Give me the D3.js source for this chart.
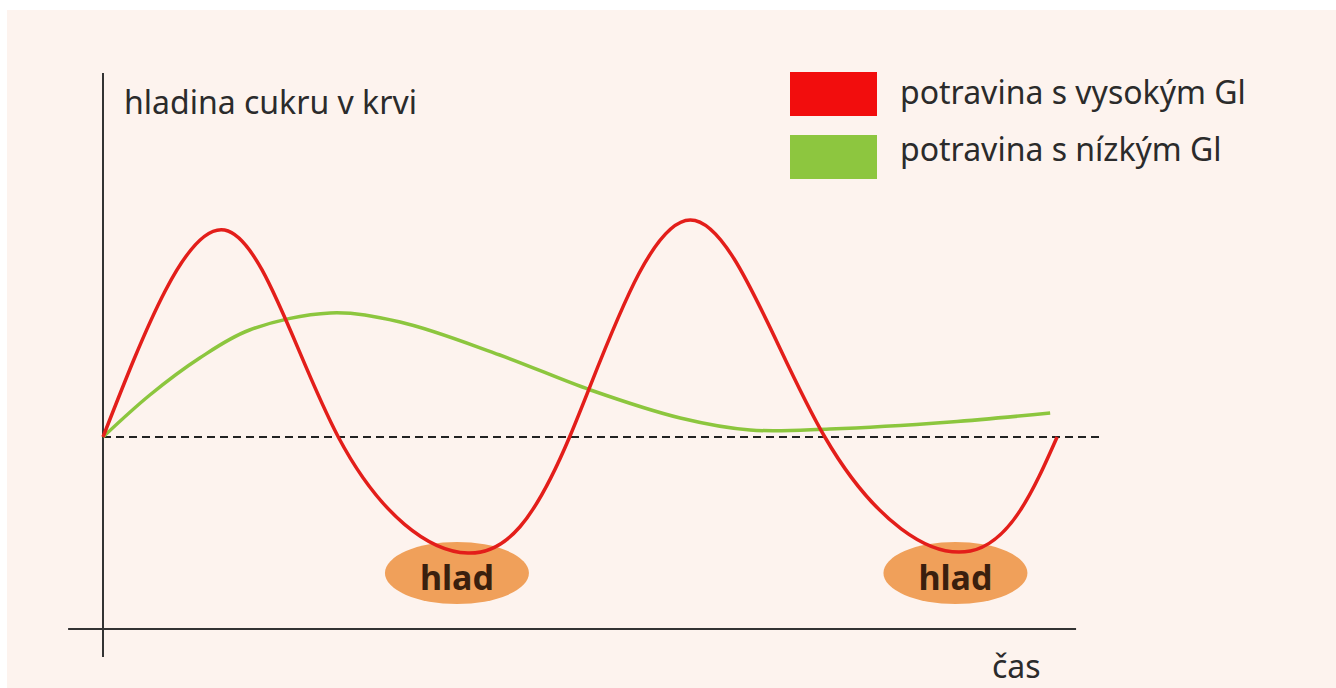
<!DOCTYPE html>
<html>
<head>
<meta charset="utf-8">
<script src="https://cdn.jsdelivr.net/npm/d3@7"></script>
<style>
    body { margin: 0; background: #fff; }
    svg text { font-family: "Noto Sans", "Open Sans", sans-serif; fill: #2b2b2b; }
</style>
</head>
<body>
<svg id="chart" width="1336" height="688"></svg>
<script>
// time (arbitrary units) and blood sugar level relative to baseline
const highGiTime  = [0, 12.2, 23.6, 36.6, 46.8, 58.9, 72.4, 87.0, 95.7];
const highGiLevel = [0, 103.5, 0, -58, 0, 108.5, 0, -57, 0];

const lowGiTime  = [0, 4.7, 9.7, 14.7, 22.8, 29.8, 39.8, 48.9, 57.9, 64.9, 72.9, 85.0, 95.0];
const lowGiLevel = [0, 21, 39.5, 53.5, 62, 57.5, 41, 23.5, 9.5, 3.5, 4, 7.5, 12];

const hungerTime = [35.5, 85.5];
const hungerLabel = "hlad";

const legendLabels = ["potravina s vysokým Gl", "potravina s nízkým Gl"];
const legendColors = ["#f20d0d", "#8dc63f"];
const yLabel = "hladina cukru v krvi";
const xLabel = "čas";

const svg = d3.select("#chart");

svg.append("rect")
    .attr("x", 7).attr("y", 10)
    .attr("width", 1329).attr("height", 678)
    .attr("fill", "#fdf3ee");

const x = d3.scaleLinear().domain([0, 100]).range([103, 1100]);
const y = d3.scaleLinear().domain([-96, 182]).range([629, 73]);

// axes
svg.append("line")
    .attr("x1", x(0)).attr("x2", x(0))
    .attr("y1", y(182)).attr("y2", y(-110))
    .attr("stroke", "#333").attr("stroke-width", 2);

svg.append("line")
    .attr("x1", x(-3.5)).attr("x2", x(97.6))
    .attr("y1", y(-96)).attr("y2", y(-96))
    .attr("stroke", "#333").attr("stroke-width", 2);

svg.append("line")
    .attr("x1", x(0)).attr("x2", x(100))
    .attr("y1", y(0)).attr("y2", y(0))
    .attr("stroke", "#222").attr("stroke-width", 2)
    .attr("stroke-dasharray", "8,5");

// hunger ellipses
const hunger = svg.selectAll(".hunger")
    .data(hungerTime)
    .enter().append("g")
    .attr("class", "hunger")
    .attr("transform", d => `translate(${x(d)},${y(-68)})`);

hunger.append("ellipse")
    .attr("rx", 72).attr("ry", 31)
    .attr("fill", "#f0a05a");

hunger.append("text")
    .attr("text-anchor", "middle")
    .attr("dy", 17)
    .style("font-size", "34px")
    .style("font-weight", "bold")
    .style("fill", "#3a1f0e")
    .text(hungerLabel);

// curves
const lineGen = d3.line()
    .x(d => x(d[0]))
    .y(d => y(d[1]));

svg.append("path")
    .datum(d3.zip(lowGiTime, lowGiLevel))
    .attr("d", lineGen.curve(d3.curveCatmullRom))
    .attr("fill", "none")
    .attr("stroke", "#8cc63e")
    .attr("stroke-width", 3.5);

svg.append("path")
    .datum(d3.zip(highGiTime, highGiLevel))
    .attr("d", lineGen.curve(d3.curveNatural))
    .attr("fill", "none")
    .attr("stroke", "#e31e1a")
    .attr("stroke-width", 3.5);

// labels
svg.append("text")
    .attr("x", 124).attr("y", 114)
    .style("font-size", "32px")
    .text(yLabel);

svg.append("text")
    .attr("x", 992).attr("y", 678)
    .style("font-size", "32px")
    .text(xLabel);

// legend
const legend = svg.selectAll(".legend")
    .data(legendLabels)
    .enter().append("g")
    .attr("class", "legend")
    .attr("transform", (d, i) => `translate(790,${72 + i * 63})`);

legend.append("rect")
    .attr("width", 87).attr("height", 44)
    .attr("fill", (d, i) => legendColors[i]);

legend.append("text")
    .attr("x", 110).attr("y", (d, i) => i === 0 ? 32 : 26)
    .style("font-size", "32px")
    .text(d => d);
</script>
</body>
</html>
